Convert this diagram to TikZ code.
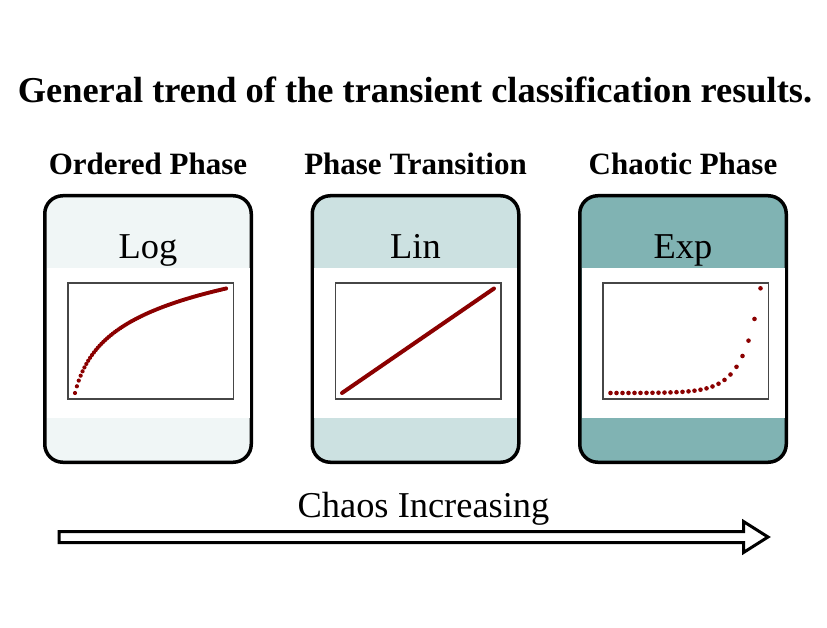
\documentclass[tikz,border=0pt]{standalone}
\usepackage{fontspec}
\setmainfont{Liberation Serif}
\definecolor{tealbase}{RGB}{128,179,179}
\definecolor{dotred}{RGB}{139,0,0}
\definecolor{framegray}{RGB}{70,70,70}
\begin{document}
\begin{tikzpicture}[x=1pt,y=-1pt,
  card/.style={draw=black, line width=3.5pt, rounded corners=18pt,
    minimum width=206.5pt, minimum height=266.5pt, inner sep=0pt},
  txt/.style={inner sep=0pt, anchor=base},
  titlefont/.style={font=\fontsize{36.4}{40}\selectfont\bfseries},
  headfont/.style={font=\fontsize{31}{36}\selectfont\bfseries},
  labelfont/.style={font=\fontsize{36.4}{40}\selectfont},
  plotframe/.style={draw=framegray, line width=1.1pt},
  dot/.style={fill=dotred}]
\useasboundingbox (0,0) rectangle (827,628);
% title
\node[txt, titlefont] (title) at (415,103) {General trend of the transient classification results.};
% headers
\node[txt, headfont] (h1) at (148,175) {Ordered Phase};
\node[txt, headfont] (h2) at (415.5,175) {Phase Transition};
\node[txt, headfont] (h3) at (683,175) {Chaotic Phase};
% cards
\node[card, fill=tealbase!12!white] (card1) at (148,329) {};
\node[card, fill=tealbase!40!white] (card2) at (415.5,329) {};
\node[card, fill=tealbase] (card3) at (683,329) {};
\foreach \c in {148,415.5,683}{
  \fill[white] (\c-101.5,268) rectangle (\c+101.5,418);
  \draw[plotframe] (\c-80,283) rectangle (\c+85.5,399);
}
% labels
\node[txt, labelfont] (l1) at (148,258.5) {Log};
\node[txt, labelfont] (l2) at (415.5,258.5) {Lin};
\node[txt, labelfont] (l3) at (683,258.5) {Exp};
% log plot
\foreach \k in {0,...,80}{
  \pgfmathsetmacro\px{148-73+151*\k/80}
  \pgfmathsetmacro\py{393-104.5*ln((5+\k)/5)/ln(17)}
  \fill[dot] (\px,\py) circle[radius=2.1pt];
}
% linear plot
\draw[dotred, line width=4pt, line cap=round] (342,393) -- (494,288.5);
% exp plot
\foreach \i in {0,...,25}{
  \pgfmathsetmacro\px{683-72.5+6*\i}
  \pgfmathsetmacro\py{393-104.7*exp(0.3466*(\i-25))}
  \fill[dot] (\px,\py) circle[radius=2.3pt];
}
% arrow
\node[txt, labelfont] (chaos) at (423.5,517) {Chaos Increasing};
\draw[line width=3pt, fill=white] (59,531.5) -- (743.5,531.5) -- (743.5,521.5)
  -- (768,537) -- (743.5,552.5) -- (743.5,542.5) -- (59,542.5) -- cycle;
\end{tikzpicture}
\end{document}
